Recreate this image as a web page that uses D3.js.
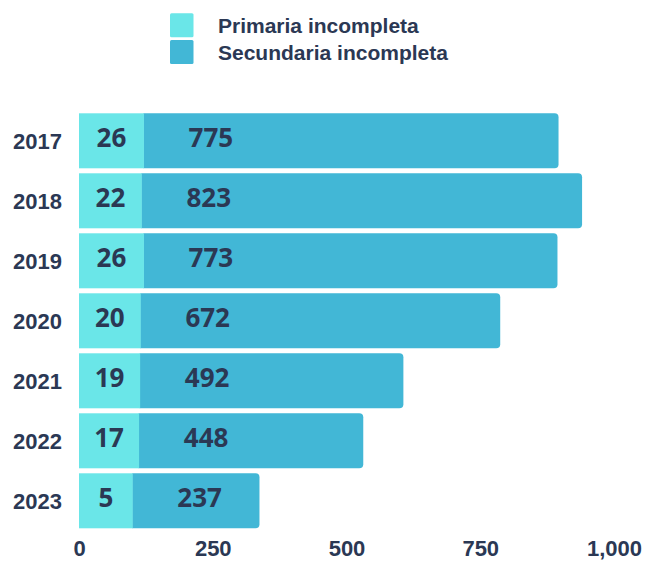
<!DOCTYPE html>
<html>
<head>
<meta charset="utf-8">
<script src="https://cdn.jsdelivr.net/npm/d3@7"></script>
<style>
  body { margin: 0; background: #fff; }
  text { fill: #2b3854; }
  .cat, .tick text { font-family: "Liberation Sans", Arial, sans-serif; font-weight: bold; font-size: 22px; }
  .legend { font-family: "Liberation Sans", Arial, sans-serif; font-weight: bold; font-size: 21px; }
  .val { font-family: "Open Sans", "Noto Sans", sans-serif; font-weight: bold; font-size: 26px; }
</style>
</head>
<body>
<div id="chart"></div>
<script>
const years = ["2017", "2018", "2019", "2020", "2021", "2022", "2023"];
const primaria = [26, 22, 26, 20, 19, 17, 5];
const secundaria = [775, 823, 773, 672, 492, 448, 237];
// bar lengths as drawn in the source (2022 is drawn shorter than its label)
const secundariaBar = [775, 823, 773, 672, 492, 419, 237];
const seriesNames = ["Primaria incompleta", "Secundaria incompleta"];
const colors = ["#6ae6e8", "#42b7d6"];
const xTicks = [0, 250, 500, 750, 1000];

const width = 645, height = 562;
const primPad = 51;  // the first segment always gets room for its label

const svg = d3.select("#chart").append("svg")
  .attr("width", width)
  .attr("height", height);

const x = d3.scaleLinear().domain([0, 1000]).range([79, 614]);
const y = d3.scaleBand().domain(years).range([113.3, 528.3])
  .paddingInner(1 / 12).paddingOuter(0);

// legend
const legend = svg.append("g");
seriesNames.forEach(function(name, i) {
  legend.append("rect")
    .attr("x", 170).attr("y", 13.3 + i * 26.7)
    .attr("width", 23.5).attr("height", 24)
    .attr("rx", 1.5)
    .attr("fill", colors[i]);
  legend.append("text")
    .attr("class", "legend")
    .attr("x", 218).attr("y", 33.3 + i * 26.7)
    .text(name);
});

const rows = years.map(function(yr, i) {
  const p0 = x(0);
  const p1 = x(primaria[i]) + primPad;
  const s1 = p1 + x(secundariaBar[i]) - x(0);
  return { year: yr, p: primaria[i], s: secundaria[i], p0: p0, p1: p1, s1: s1 };
});

function rightRounded(x0, y0, x1, h, r) {
  return "M" + x0 + "," + y0 +
    "H" + (x1 - r) +
    "Q" + x1 + "," + y0 + " " + x1 + "," + (y0 + r) +
    "V" + (y0 + h - r) +
    "Q" + x1 + "," + (y0 + h) + " " + (x1 - r) + "," + (y0 + h) +
    "H" + x0 + "Z";
}

const bars = svg.append("g").selectAll("g")
  .data(rows)
  .enter().append("g");

bars.append("path")
  .attr("fill", colors[1])
  .attr("d", function(d) { return rightRounded(d.p1 - 0.5, y(d.year), d.s1, y.bandwidth(), 4); });

bars.append("rect")
  .attr("fill", colors[0])
  .attr("x", function(d) { return d.p0; })
  .attr("y", function(d) { return y(d.year); })
  .attr("width", function(d) { return d.p1 - d.p0; })
  .attr("height", y.bandwidth());

bars.append("text")
  .attr("class", "val")
  .attr("text-anchor", "middle")
  .attr("x", function(d) { return (d.p0 + d.p1) / 2; })
  .attr("y", function(d) { return y(d.year) + y.bandwidth() / 2 - 3; })
  .attr("dy", "0.36em")
  .text(function(d) { return d.p; });

bars.append("text")
  .attr("class", "val")
  .attr("text-anchor", "middle")
  .attr("x", function(d) { return d.p1 + 67; })
  .attr("y", function(d) { return y(d.year) + y.bandwidth() / 2 - 3; })
  .attr("dy", "0.36em")
  .text(function(d) { return d.s; });

// category labels
svg.append("g").selectAll("text")
  .data(years)
  .enter().append("text")
  .attr("class", "cat")
  .attr("text-anchor", "end")
  .attr("x", 62)
  .attr("y", function(d) { return y(d) + y.bandwidth() / 2; })
  .attr("dy", "0.36em")
  .text(function(d) { return d; });

// x axis
const xAxis = d3.axisBottom(x)
  .tickValues(xTicks)
  .tickFormat(d3.format(","))
  .tickSize(0)
  .tickPadding(7.5);

svg.append("g")
  .attr("transform", "translate(0,533)")
  .call(xAxis)
  .call(function(g) { g.select(".domain").remove(); })
  .selectAll("text")
  .attr("fill", "#2b3854")
  .style("font-family", "'Liberation Sans', Arial, sans-serif")
  .style("font-weight", "bold")
  .style("font-size", "22px");
</script>
</body>
</html>
